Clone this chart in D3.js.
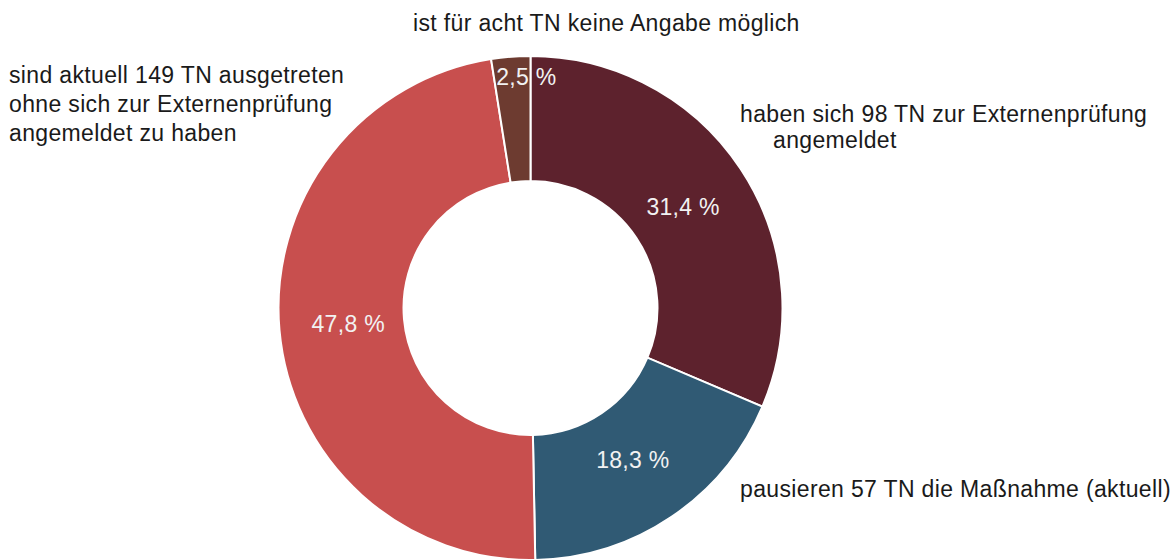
<!DOCTYPE html>
<html>
<head>
<meta charset="utf-8">
<script src="https://cdn.jsdelivr.net/npm/d3@7"></script>
<style>
  body { margin: 0; background: #fff; }
  svg { display: block; font-family: "Liberation Sans", Arial, sans-serif; }
</style>
</head>
<body>
<svg width="1176" height="559"></svg>
<script>
// Data (clockwise from 12 o'clock)
const categories = [
  ["haben sich 98 TN zur Externenprüfung", "angemeldet"],
  ["pausieren 57 TN die Maßnahme (aktuell)"],
  ["sind aktuell 149 TN ausgetreten", "ohne sich zur Externenprüfung", "angemeldet zu haben"],
  ["ist für acht TN keine Angabe möglich"]
];
const values = [31.4, 18.3, 47.8, 2.5];
const colors = ["#5d222d", "#305a74", "#c84f4e", "#6d3b30"];

// Layout of the outer labels (x, y of first baseline, line step, indent of later lines)
const outerLabelPos = [
  { x: 740, y: 122, step: 26, indent: 33 },
  { x: 740, y: 497, step: 29, indent: 0 },
  { x: 9, y: 83, step: 29, indent: 0 },
  { x: 413, y: 31, step: 29, indent: 0 }
];

const width = 1176, height = 559;
const cx = 530.5, cy = 308;
const outerR = 252, innerR = 127;

const de = d3.formatLocale({ decimal: ",", thousands: ".", grouping: [3], currency: ["", " €"] });
const fmt = v => de.format(".1f")(v) + " %";

const svg = d3.select("svg");
const g = svg.append("g").attr("transform", `translate(${cx},${cy})`);

const pie = d3.pie().sort(null).value(d => d)(values);
const arc = d3.arc().innerRadius(innerR).outerRadius(outerR);
const labelArc = d3.arc().innerRadius(183).outerRadius(183);
const smallArc = d3.arc().innerRadius(232).outerRadius(232);

g.selectAll("path.slice")
  .data(pie)
  .join("path")
  .attr("class", "slice")
  .attr("d", arc)
  .attr("fill", (d, i) => colors[i])
  .attr("stroke", "#fff")
  .attr("stroke-width", 2);

g.selectAll("text.pct")
  .data(pie)
  .join("text")
  .attr("class", "pct")
  .attr("transform", d => {
    const small = d.data < 5;
    const c = (small ? smallArc : labelArc).centroid(d);
    return `translate(${c[0] + (small ? 14 : 0)},${c[1]})`;
  })
  .attr("text-anchor", "middle")
  .attr("dy", "0.35em")
  .attr("font-size", 23)
  .attr("letter-spacing", 0.3)
  .attr("fill", "#f2f2f2")
  .text(d => fmt(d.data));

const outer = svg.append("g")
  .attr("font-size", 23)
  .attr("letter-spacing", 0.35)
  .attr("fill", "#1a1a1a");

categories.forEach((lines, i) => {
  const p = outerLabelPos[i];
  const t = outer.append("text");
  lines.forEach((line, j) => {
    t.append("tspan")
      .attr("x", p.x + (j > 0 ? p.indent : 0))
      .attr("y", p.y + j * p.step)
      .text(line);
  });
});
</script>
</body>
</html>
